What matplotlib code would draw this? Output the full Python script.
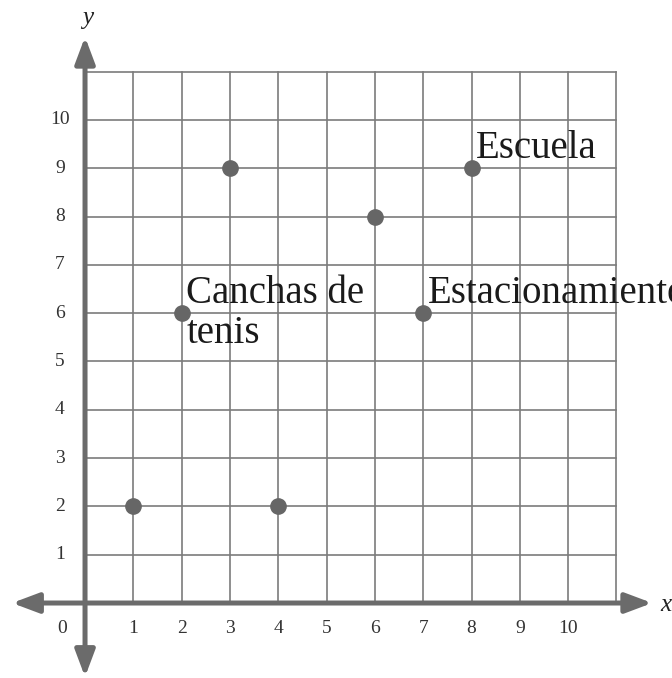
import matplotlib
matplotlib.use("Agg")
import matplotlib.pyplot as plt

# lugares marcados en el plano
px = [1, 2, 3, 4, 6, 7, 8]
py = [2, 6, 9, 2, 8, 6, 9]

etiquetas = ["Canchas de\ntenis", "Estacionamiento", "Escuela"]
etiq_pos = [(2, 6), (7, 6), (8, 9)]

ticks = list(range(1, 11))
n_grid = 11

gris_eje = "#6b6b6b"
gris_red = "#7c7c7c"
serif = ["Liberation Serif", "DejaVu Serif"]

fig = plt.figure(figsize=(6.72, 6.78), dpi=100)
ax = fig.add_axes([0, 0, 1, 1])
ax.set_xlim(-1.76, 12.15)
ax.set_ylim(-1.55, 12.48)
ax.set_aspect("equal")
ax.axis("off")

# cuadricula
for k in range(1, n_grid + 1):
    ax.plot([k, k], [0, n_grid], color=gris_red, lw=1.2, zorder=1)
    ax.plot([0, n_grid], [k, k], color=gris_red, lw=1.2, zorder=1)

# ejes con flechas
estilo = "<|-|>,head_length=0.8,head_width=0.3"
ax.annotate("", xy=(11.74, 0), xytext=(-1.51, 0),
            arrowprops=dict(arrowstyle=estilo, color=gris_eje, lw=3.6,
                            mutation_scale=20, shrinkA=0, shrinkB=0), zorder=3)
ax.annotate("", xy=(0, 11.72), xytext=(0, -1.53),
            arrowprops=dict(arrowstyle=estilo, color=gris_eje, lw=3.6,
                            mutation_scale=20, shrinkA=0, shrinkB=0), zorder=3)

# numeros de los ejes
for t in ticks:
    ax.text(t, -0.52, str(t), ha="center", va="center", fontsize=14,
            family=serif, color="#333333")
    ax.text(-0.52, t, str(t), ha="center", va="center", fontsize=14,
            family=serif, color="#333333")
ax.text(-0.48, -0.52, "0", ha="center", va="center", fontsize=14,
        family=serif, color="#333333")

ax.text(0.06, 12.1, "y", ha="center", va="center", fontsize=18,
        family=serif, style="italic", color="#222222")
ax.text(11.9, -0.05, "x", ha="left", va="center", fontsize=18,
        family=serif, style="italic", color="#222222")

# puntos
ax.plot(px, py, "o", color="#666666", ms=11, zorder=4)

# rotulos: cada renglon sobre su propia linea base
for txt, (x, y) in zip(etiquetas, etiq_pos):
    for i, linea in enumerate(txt.split("\n")):
        ax.text(x + 0.1, y + 0.21 - 0.83 * i, linea, ha="left", va="baseline",
                fontsize=28, family=serif, color="#1a1a1a", zorder=5)

fig.savefig("out.png", dpi=100)
